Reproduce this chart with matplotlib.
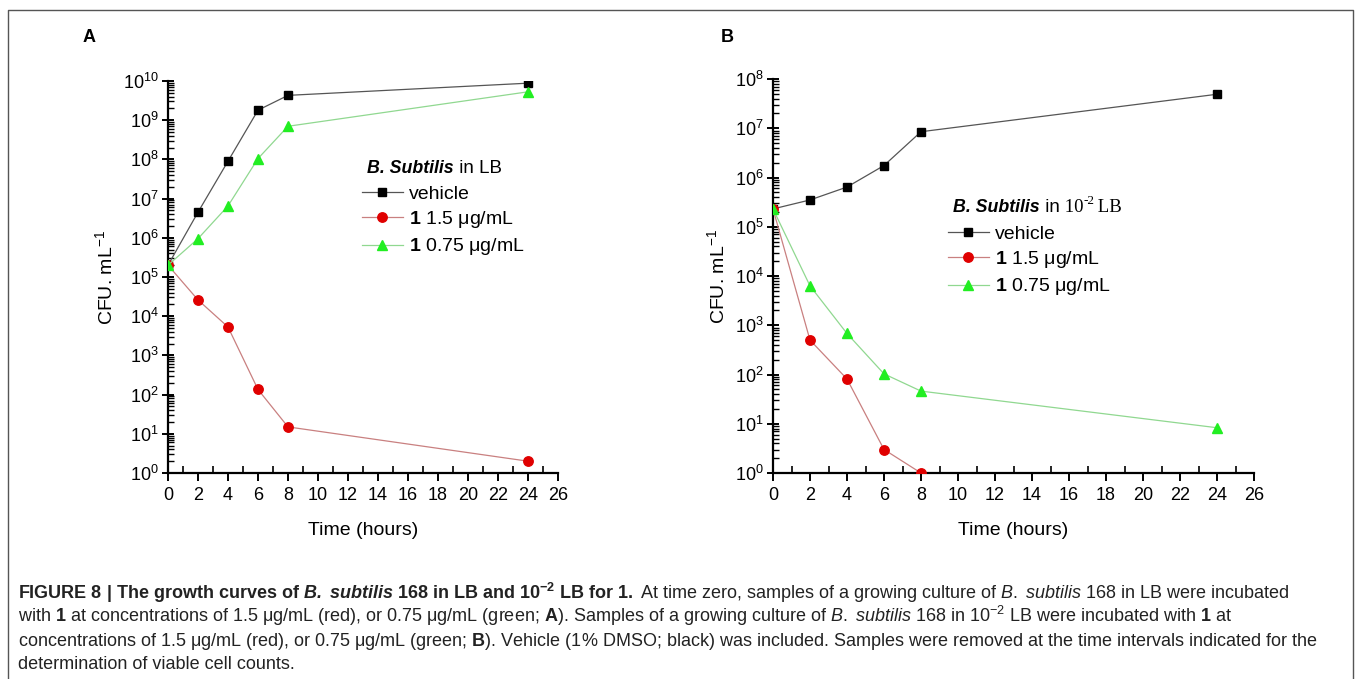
import matplotlib
matplotlib.use("Agg")
import matplotlib.pyplot as plt
import matplotlib.ticker as mticker
from matplotlib.lines import Line2D
from matplotlib import font_manager

# ---------------- data ----------------
time_a = [0, 2, 4, 6, 8, 24]
vehicle_a = [2.0e5, 4.5e6, 9.0e7, 1.8e9, 4.3e9, 8.8e9]
red_a = [2.0e5, 2.6e4, 5.3e3, 1.35e2, 15, 2.0]
green_a = [2.0e5, 9.5e5, 6.5e6, 1.05e8, 7.0e8, 5.3e9]

time_b = [0, 2, 4, 6, 8, 24]
vehicle_b = [2.3e5, 3.5e5, 6.4e5, 1.75e6, 8.5e6, 4.9e7]
time_b_red = [0, 2, 4, 6, 8]
red_b = [2.3e5, 5.0e2, 81, 3.0, 1.0]
green_b = [2.3e5, 6.3e3, 6.8e2, 1.03e2, 46, 8.3]

xticks = list(range(0, 27, 2))
labels = ["vehicle", r"$\mathbf{1}$ 1.5 μg/mL", r"$\mathbf{1}$ 0.75 μg/mL"]

# ---------------- style ----------------
W, H = 1358, 679
FONT = "Liberation Sans"
SERIF = "Liberation Serif"


def has_font(name):
    try:
        font_manager.findfont(name, fallback_to_default=False)
        return True
    except Exception:
        return False


NARROW = "Liberation Sans Narrow" if has_font("Liberation Sans Narrow") else None

plt.rcParams["font.family"] = [FONT, "DejaVu Sans"]
plt.rcParams["mathtext.fontset"] = "custom"
plt.rcParams["mathtext.rm"] = FONT
plt.rcParams["mathtext.it"] = FONT + ":italic"
plt.rcParams["mathtext.bf"] = FONT + ":bold"
plt.rcParams["mathtext.sf"] = FONT + ":bold:italic"

VEH_LINE, VEH_MK = "#555555", "#000000"
RED_LINE, RED_MK = "#c98080", "#e00000"
GRN_LINE, GRN_MK = "#90d890", "#22ee22"

fig = plt.figure(figsize=(W / 100, H / 100), dpi=100)


def px_axes(x0, y0, x1, y1):
    return fig.add_axes([x0 / W, 1 - y1 / H, (x1 - x0) / W, (y1 - y0) / H])


def style_axes(ax, ymax):
    ax.set_yscale("log")
    ax.set_xlim(0, 26)
    ax.set_ylim(1, ymax)
    for s in ("top", "right"):
        ax.spines[s].set_visible(False)
    for s in ("left", "bottom"):
        ax.spines[s].set_linewidth(1.6)
    ax.set_xticks(xticks)
    ax.xaxis.set_minor_locator(mticker.MultipleLocator(1))
    ax.yaxis.set_major_locator(mticker.LogLocator(base=10, numticks=20))
    ax.yaxis.set_minor_locator(mticker.LogLocator(base=10, subs=range(2, 10), numticks=20))
    ax.yaxis.set_minor_formatter(mticker.NullFormatter())
    ax.tick_params(axis="x", which="major", direction="out", length=6, width=1.4,
                   labelsize=13, pad=4)
    ax.tick_params(axis="x", which="minor", direction="in", length=5, width=1.2)
    ax.tick_params(axis="y", which="major", direction="inout", length=9, width=1.4,
                   labelsize=13, pad=2)
    ax.tick_params(axis="y", which="minor", direction="in", length=4, width=1.0)
    ax.set_xlabel("Time (hours)", fontsize=14, labelpad=13)
    ax.set_ylabel("CFU. mL$^{-1}$", fontsize=14, labelpad=5)


def plot_series(ax, tv, v, tr, r, tg, g):
    ax.plot(tv, v, color=VEH_LINE, lw=0.9, marker="s", ms=6.3, mfc=VEH_MK, mec=VEH_MK, zorder=3)
    ax.plot(tr, r, color=RED_LINE, lw=0.9, marker="o", ms=6.8, mfc=RED_MK, mec=RED_MK, zorder=3)
    ax.plot(tg, g, color=GRN_LINE, lw=0.9, marker="^", ms=7.8, mfc=GRN_MK, mec=GRN_MK, zorder=3)


def make_legend(ax, anchor):
    handles = [
        Line2D([], [], color=VEH_LINE, lw=0.9, marker="s", ms=6.3, mfc=VEH_MK, mec=VEH_MK),
        Line2D([], [], color=RED_LINE, lw=0.9, marker="o", ms=6.8, mfc=RED_MK, mec=RED_MK),
        Line2D([], [], color=GRN_LINE, lw=0.9, marker="^", ms=7.8, mfc=GRN_MK, mec=GRN_MK),
    ]
    ax.legend(handles, labels, loc="upper left", bbox_to_anchor=anchor, frameon=False,
              fontsize=14, handlelength=2.1, handletextpad=0.3, labelspacing=0.33,
              borderpad=0, borderaxespad=0)


TITLE_FAMILY = NARROW if NARROW else FONT
TITLE_SIZE = 14 if NARROW else 12.8

# ---------------- panel A ----------------
axA = px_axes(168, 81, 558, 473)
style_axes(axA, 1e10)
plot_series(axA, time_a, vehicle_a, time_a, red_a, time_a, green_a)
make_legend(axA, ((362 - 168) / 390, (473 - 185) / 392))
tA = fig.text(367 / W, 1 - 173 / H, "B. Subtilis", fontsize=TITLE_SIZE, fontweight="bold",
              fontstyle="italic", va="baseline", family=TITLE_FAMILY)
axA.annotate(" in LB", xy=(1, 0), xycoords=tA, va="bottom", fontsize=13.5,
             family=[FONT, "DejaVu Sans"])

# ---------------- panel B ----------------
axB = px_axes(773, 79, 1254, 473)
style_axes(axB, 1e8)
plot_series(axB, time_b, vehicle_b, time_b_red, red_b, time_b, green_b)
make_legend(axB, ((948 - 773) / 481, (473 - 225) / 394))
tB = fig.text(953 / W, 1 - 212 / H, "B. Subtilis", fontsize=TITLE_SIZE, fontweight="bold",
              fontstyle="italic", va="baseline", family=TITLE_FAMILY)
tB2 = axB.annotate(" in", xy=(1, 0), xycoords=tB, va="bottom", fontsize=13.5,
                   family=[FONT, "DejaVu Sans"])
tB3 = axB.annotate(" 10", xy=(1, 0), xycoords=tB2, va="bottom", fontsize=13.5,
                   family=SERIF)
tB4 = axB.annotate("-2", xy=(1, 0.5), xycoords=tB3, va="bottom", fontsize=9.5,
                   family=SERIF)
axB.annotate(" LB", xy=(1, 0), xycoords=tB3, xytext=(10, 0), textcoords="offset pixels",
             va="bottom", fontsize=13.5, family=SERIF)

# panel letters
fig.text(83 / W, 1 - 38 / H, "A", fontsize=13, fontweight="bold", va="center")
fig.text(721 / W, 1 - 38 / H, "B", fontsize=13, fontweight="bold", va="center")

# frame
frame = Line2D([8 / W, 8 / W, 1353 / W, 1353 / W], [0, 1 - 10 / H, 1 - 10 / H, 0],
               transform=fig.transFigure, color="#555555", lw=1.0)
fig.add_artist(frame)

# caption
if NARROW:
    plt.rcParams["mathtext.rm"] = NARROW
    plt.rcParams["mathtext.it"] = NARROW + ":italic"
    plt.rcParams["mathtext.bf"] = NARROW + ":bold"
    plt.rcParams["mathtext.sf"] = NARROW + ":bold:italic"
CAP_FAMILY = NARROW if NARROW else FONT
CAP_SIZE = 13.5 if NARROW else 13.0

cap_lines = [
    r"$\mathbf{FIGURE\ 8\ |\ The\ growth\ curves\ of}$ $\mathsf{B.}$ $\mathsf{subtilis}$ $\mathbf{168\ in\ LB\ and\ 10^{-2}\ LB\ for\ 1.}$"
    r" At time zero, samples of a growing culture of $\mathit{B.}$ $\mathit{subtilis}$ 168 in LB were incubated",
    r"with $\mathbf{1}$ at concentrations of 1.5 μg/mL (red), or 0.75 μg/mL (green; $\mathbf{A}$). Samples of a growing culture of $\mathit{B.}$ $\mathit{subtilis}$ 168 in 10$^{-2}$ LB were incubated with $\mathbf{1}$ at",
    r"concentrations of 1.5 μg/mL (red), or 0.75 μg/mL (green; $\mathbf{B}$). Vehicle (1% DMSO; black) was included. Samples were removed at the time intervals indicated for the",
    "determination of viable cell counts.",
]
cap_y = [599, 622, 646, 669]
for s, y in zip(cap_lines, cap_y):
    fig.text(18 / W, 1 - y / H, s, fontsize=CAP_SIZE, va="baseline", ha="left",
             color="#222222", family=CAP_FAMILY)

fig.savefig("out.png", dpi=100)
